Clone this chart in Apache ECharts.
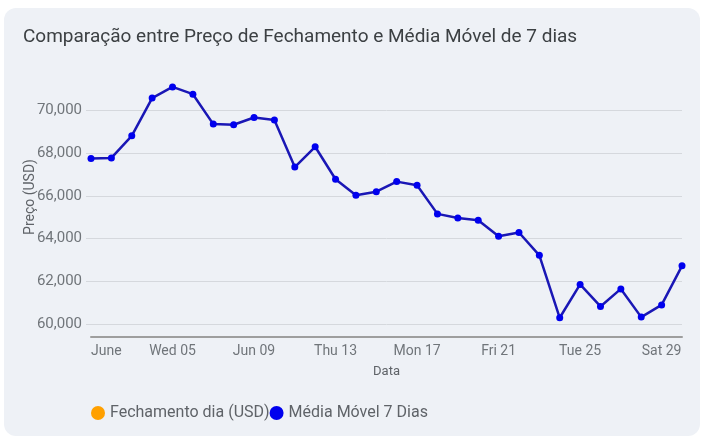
<!DOCTYPE html>
<html>
<head>
<meta charset="utf-8">
<script src="https://cdn.jsdelivr.net/npm/echarts@6/dist/echarts.min.js"></script>
<style>
  html, body { margin: 0; padding: 0; background: #ffffff; }
  #card {
    position: absolute; left: 4px; top: 8px; width: 696px; height: 428px;
    background: #eef1f6; border-radius: 12px;
  }
  #chart { position: absolute; left: 0; top: 0; width: 709px; height: 439px; }
</style>
</head>
<body>
<div id="card"></div>
<div id="chart"></div>
<script>
// datas (junho 2024)
const dates = [
  '2024-06-01', '2024-06-02', '2024-06-03', '2024-06-04', '2024-06-05',
  '2024-06-06', '2024-06-07', '2024-06-08', '2024-06-09', '2024-06-10',
  '2024-06-11', '2024-06-12', '2024-06-13', '2024-06-14', '2024-06-15',
  '2024-06-16', '2024-06-17', '2024-06-18', '2024-06-19', '2024-06-20',
  '2024-06-21', '2024-06-22', '2024-06-23', '2024-06-24', '2024-06-25',
  '2024-06-26', '2024-06-27', '2024-06-28', '2024-06-29', '2024-06-30'
]

// média móvel de 7 dias (USD)
const movingAvg = [
  67750, 67780, 68810, 70580, 71100, 70760, 69360, 69330, 69670, 69550,
  67350, 68300, 66780, 66030, 66200, 66670, 66500, 65160, 64970, 64860,
  64110, 64290, 63220, 60300, 61860, 60830, 61650, 60330, 60900, 62730
]

// fechamento do dia - nenhuma linha visível no gráfico
const closePrices = []

// rótulos do eixo X
const tickDates = ['2024-06-01', '2024-06-05', '2024-06-09', '2024-06-13', '2024-06-17', '2024-06-21', '2024-06-25', '2024-06-29']
const tickLabels = ['June', 'Wed 05', 'Jun 09', 'Thu 13', 'Mon 17', 'Fri 21', 'Tue 25', 'Sat 29']

// valores do eixo Y
const yTicks = [60000, 62000, 64000, 66000, 68000, 70000]

const chart = echarts.init(document.getElementById('chart'))

const option = {
  backgroundColor: 'transparent',
  textStyle: { fontFamily: 'Roboto, sans-serif' },
  title: {
    text: 'Comparação entre Preço de Fechamento e Média Móvel de 7 dias',
    left: 18,
    top: 23,
    textStyle: { fontSize: 19, fontWeight: 'normal', color: '#3c4043', fontFamily: 'Roboto, sans-serif' }
  },
  legend: {
    bottom: 13,
    left: 86,
    icon: 'circle',
    itemWidth: 14,
    itemHeight: 14,
    itemGap: 0,
    textStyle: { fontSize: 16, color: '#5f6368' },
    data: ['Fechamento dia (USD)', 'Média Móvel 7 Dias']
  },
  grid: {
    left: 91,
    right: 27,
    top: 57,
    bottom: 102
  },
  xAxis: {
    type: 'category',
    data: dates,
    boundaryGap: false,
    name: 'Data',
    nameLocation: 'middle',
    nameGap: 28,
    nameMoveOverlap: false,
    nameTextStyle: { fontSize: 13, color: '#5f6368' },
    axisLine: { lineStyle: { color: '#9e9e9e', width: 2 } },
    axisTick: { show: false },
    axisLabel: {
      interval: 3,
      margin: 7,
      fontSize: 14,
      color: '#70757a',
      alignMinLabel: 'left',
      formatter: (value) => {
        const i = tickDates.indexOf(value)
        return i >= 0 ? tickLabels[i] : ''
      }
    },
    splitLine: { show: false }
  },
  yAxis: {
    type: 'value',
    min: 59400,
    max: 72500,
    name: 'Preço (USD)',
    nameLocation: 'middle',
    nameGap: 54,
    nameMoveOverlap: false,
    nameTextStyle: { fontSize: 14, color: '#5f6368' },
    axisLine: { show: false },
    axisTick: {
      show: true,
      length: 5,
      customValues: yTicks,
      lineStyle: { color: '#d5d8dd' }
    },
    axisLabel: {
      customValues: yTicks,
      margin: 9,
      fontSize: 15,
      color: '#70757a',
      formatter: (v) => v.toLocaleString('en-US')
    },
    splitLine: { show: true, lineStyle: { color: '#d5d8dd', width: 1 } }
  },
  series: [
    {
      name: 'Fechamento dia (USD)',
      type: 'line',
      data: closePrices,
      itemStyle: { color: '#ffa000' }
    },
    {
      name: 'Média Móvel 7 Dias',
      type: 'line',
      data: movingAvg,
      symbol: 'circle',
      symbolSize: 7,
      lineStyle: { color: '#1a17b5', width: 2.5 },
      itemStyle: { color: '#0000ee' }
    }
  ]
}

chart.setOption(option)
</script>
</body>
</html>
